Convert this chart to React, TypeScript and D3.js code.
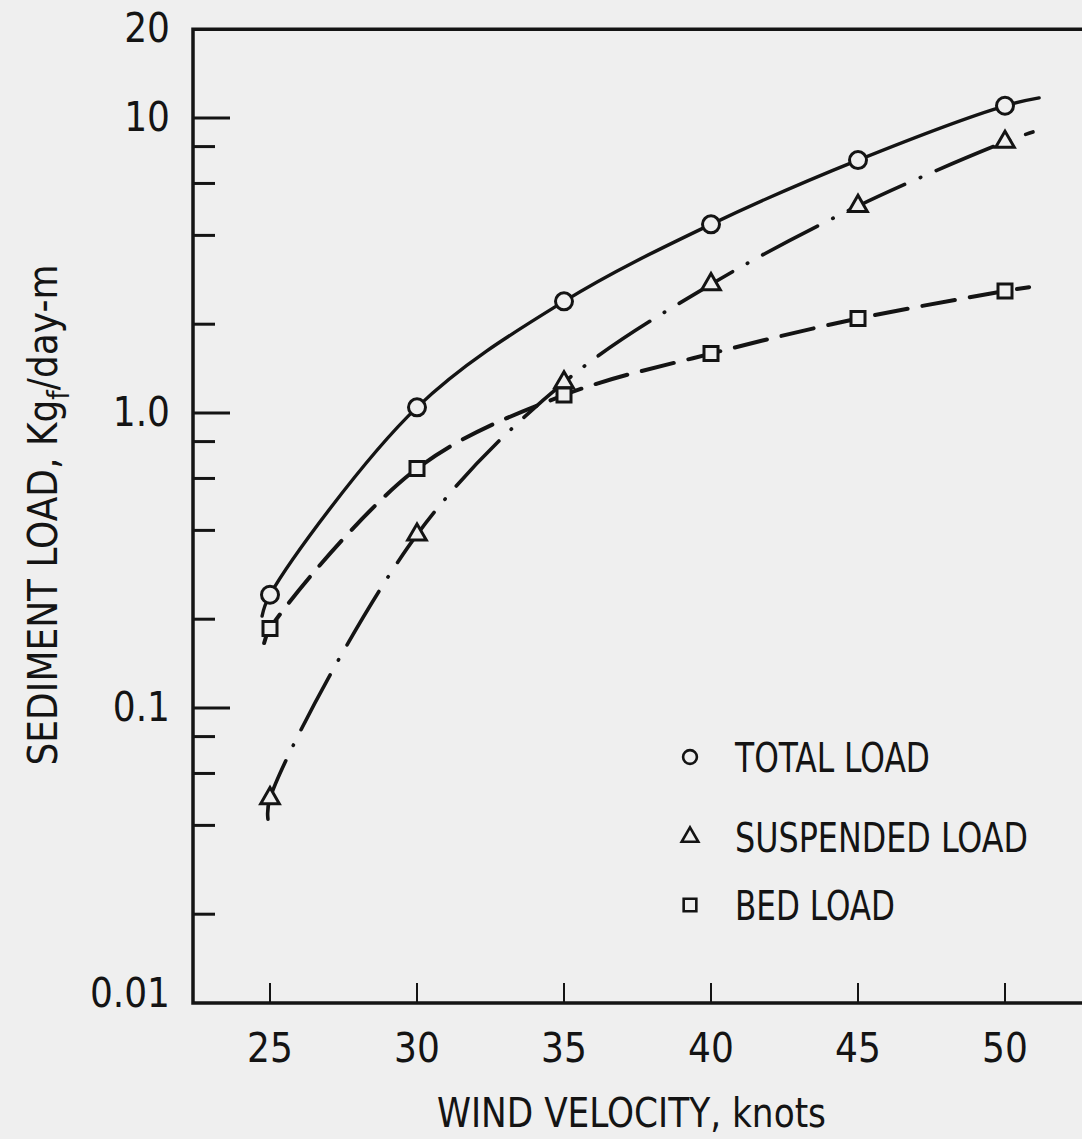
import React, { useRef, useEffect } from 'react';
import * as d3 from 'd3';

const WIDTH = 1082;
const HEIGHT = 1139;
const BG = '#efefef';
const INK = '#141414';
const FONT = "'Liberation Sans Narrow', 'DejaVu Sans Condensed', 'Arial Narrow', sans-serif";

// wind velocity, knots
const velocities = [25, 30, 35, 40, 45, 50];
// sediment load, Kgf/day-m
const totalLoad = [0.242, 1.045, 2.39, 4.36, 7.2, 11.0];
const suspendedLoad = [0.0494, 0.387, 1.27, 2.73, 5.03, 8.3];
const bedLoad = [0.186, 0.648, 1.15, 1.59, 2.09, 2.59];

// where each drawn curve starts / stops (a bit past the end markers)
const totalEnds = [[24.73, 0.205], [51.16, 11.7]];
const suspendedEnds = [[24.93, 0.042], [50.95, 8.97]];
const bedEnds = [[24.8, 0.166], [50.82, 2.67]];

const xTicks = [25, 30, 35, 40, 45, 50];
const yLabelValues = [0.01, 0.1, 1, 10, 20];
const yLabelText = ['0.01', '0.1', '1.0', '10', '20'];
const yMajor = [0.1, 1, 10];
const yMinor = [0.02, 0.04, 0.06, 0.08, 0.2, 0.4, 0.6, 0.8, 2, 4, 6, 8];

const legendItems = ['TOTAL LOAD', 'SUSPENDED LOAD', 'BED LOAD'];

const App = () => {
  const svgRef = useRef(null);

  useEffect(() => {
    const svg = d3.select(svgRef.current);
    svg.selectAll('*').remove();

    const x = d3.scaleLinear().domain([25, 50]).range([270, 1005]);
    const y = d3.scaleLog().domain([0.01, 10]).range([1003, 118]);
    const left = 193, top = y(20), bottom = y(0.01), right = WIDTH;

    svg.append('rect').attr('width', WIDTH).attr('height', HEIGHT).attr('fill', BG);

    // frame: left, top, bottom
    svg.append('path')
      .attr('d', `M${right},${top}H${left}V${bottom}H${right}`)
      .attr('fill', 'none')
      .attr('stroke', INK)
      .attr('stroke-width', 3.5);

    // y ticks
    svg.selectAll('.ymaj').data(yMajor).join('line')
      .attr('x1', left).attr('x2', left + 37)
      .attr('y1', d => y(d)).attr('y2', d => y(d))
      .attr('stroke', INK).attr('stroke-width', 3);
    svg.selectAll('.ymin').data(yMinor).join('line')
      .attr('x1', left).attr('x2', left + 22)
      .attr('y1', d => y(d)).attr('y2', d => y(d))
      .attr('stroke', INK).attr('stroke-width', 3);

    // x ticks
    svg.selectAll('.xt').data(xTicks).join('line')
      .attr('x1', d => x(d)).attr('x2', d => x(d))
      .attr('y1', bottom).attr('y2', bottom - 20)
      .attr('stroke', INK).attr('stroke-width', 2);

    // tick labels
    svg.selectAll('.xl').data(xTicks).join('text')
      .attr('x', d => x(d)).attr('y', 1062)
      .attr('text-anchor', 'middle')
      .style('font-family', FONT).style('font-size', '40px').attr('fill', INK)
      .text(d => d);
    svg.selectAll('.yl').data(yLabelValues).join('text')
      .attr('x', 170).attr('y', (d, i) => y(d) + (i === 0 ? 4 : 13))
      .attr('text-anchor', 'end')
      .style('font-family', FONT).style('font-size', '40px').attr('fill', INK)
      .text((d, i) => yLabelText[i]);

    // axis titles
    svg.append('text')
      .attr('x', 437).attr('y', 1127)
      .attr('textLength', 389).attr('lengthAdjust', 'spacingAndGlyphs')
      .style('font-family', FONT).style('font-size', '40px').attr('fill', INK)
      .text('WIND VELOCITY, knots');

    const yt = svg.append('text')
      .attr('transform', 'translate(57,515) rotate(-90)')
      .attr('text-anchor', 'middle')
      .style('font-family', FONT).style('font-size', '40px').attr('fill', INK);
    yt.append('tspan').text('SEDIMENT LOAD, Kg');
    yt.append('tspan').attr('dy', 12).style('font-size', '30px').text('f');
    yt.append('tspan').attr('dy', -12).text('/day-m');

    // curves
    const line = d3.line()
      .x(d => x(d[0]))
      .y(d => y(d[1]))
      .curve(d3.curveCatmullRom.alpha(0.5));

    const series = [
      { vals: totalLoad, ends: totalEnds, dash: null, width: 3.4, sym: d3.symbolCircle, size: 227 },
      { vals: suspendedLoad, ends: suspendedEnds, dash: '62 17 0.5 17', width: 3.6, sym: d3.symbolTriangle, size: 150 },
      { vals: bedLoad, ends: bedEnds, dash: '33 15', width: 4, sym: d3.symbolSquare, size: 196 },
    ];

    series.forEach(s => {
      const pts = [s.ends[0], ...velocities.map((v, i) => [v, s.vals[i]]), s.ends[1]];
      svg.append('path')
        .attr('d', line(pts))
        .attr('fill', 'none')
        .attr('stroke', INK)
        .attr('stroke-width', s.width)
        .attr('stroke-linecap', 'round')
        .attr('stroke-dasharray', s.dash);
    });

    series.forEach(s => {
      svg.selectAll(null).data(velocities).join('path')
        .attr('d', d3.symbol(s.sym, s.size))
        .attr('transform', (d, i) => `translate(${x(d)},${y(s.vals[i])})`)
        .attr('fill', BG)
        .attr('stroke', INK)
        .attr('stroke-width', 3);
    });

    // legend
    const legY = [757, 837, 905];
    const legW = [195, 293, 160];
    const legSyms = [[d3.symbolCircle, 150], [d3.symbolTriangle, 120], [d3.symbolSquare, 160]];
    legendItems.forEach((label, i) => {
      svg.append('path')
        .attr('d', d3.symbol(legSyms[i][0], legSyms[i][1]))
        .attr('transform', `translate(690,${legY[i]})`)
        .attr('fill', BG)
        .attr('stroke', INK)
        .attr('stroke-width', 2.6);
      svg.append('text')
        .attr('x', 735).attr('y', legY[i] + 15)
        .attr('textLength', legW[i]).attr('lengthAdjust', 'spacingAndGlyphs')
        .style('font-family', FONT).style('font-size', '41px').attr('fill', INK)
        .text(label);
    });
  }, []);

  return (
    <svg
      ref={svgRef}
      width={WIDTH}
      height={HEIGHT}
      style={{ position: 'absolute', left: 0, top: 0 }}
    />
  );
};

export default App;
